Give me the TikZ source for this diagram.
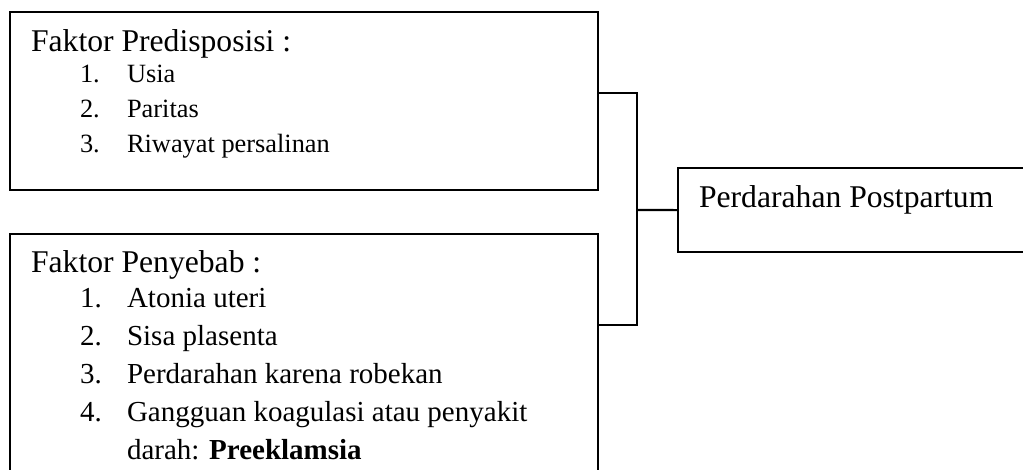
\documentclass[tikz,border=0pt]{standalone}
\usepackage{fontspec}
\setmainfont{Liberation Serif}

\begin{document}
\begin{tikzpicture}[x=0.1333mm,y=-0.1333mm,line width=0.8pt]
      \clip (0,0) rectangle (1023,470);
      \tikzstyle{kotak}=[draw,inner sep=0pt,anchor=north west]
      \tikzstyle{teks}=[inner sep=0pt,anchor=base west,font=\fontsize{12}{14}\selectfont]
      \tikzstyle{sedang}=[teks,font=\fontsize{11}{13}\selectfont]
      \tikzstyle{kecil}=[teks,font=\fontsize{10}{12}\selectfont]
      \node [kotak,minimum width=78.4mm,minimum height=23.7mm] (pred) at (9,11) {};
      \node [kotak,minimum width=78.4mm,minimum height=40mm] (sebab) at (9,233) {};
      \node [kotak,minimum width=53.3mm,minimum height=11.2mm] (pp) at (677,167) {};
      \node [teks] (judul1) at (30,52) {Faktor Predisposisi :};
      \foreach \isi [count=\i] in {Usia,Paritas,Riwayat persalinan} {
          \node [kecil] (n1\i) at (79,48+35*\i) {\i.};
          \node [kecil] (a1\i) at (126,48+35*\i) {\isi};
      }
      \node [teks] (judul2) at (30,273) {Faktor Penyebab :};
      \foreach \isi [count=\i] in {Atonia uteri,Sisa plasenta,Perdarahan karena robekan,Gangguan koagulasi atau penyakit} {
          \node [sedang] (n2\i) at (79,270+38*\i) {\i.};
          \node [sedang] (a2\i) at (126,270+38*\i) {\isi};
      }
      \node [sedang] (a25) at (126,460) {darah: \textbf{Preeklamsia}};
      \node [teks] (judul3) at (698,208) {Perdarahan Postpartum};
      \coordinate (cabang) at (637,210);
      \draw (pred.north east |- 0,93) -| (cabang) |- (sebab.north east |- 0,325);
      \draw (cabang) -- (pp.west);
\end{tikzpicture}
\end{document}
